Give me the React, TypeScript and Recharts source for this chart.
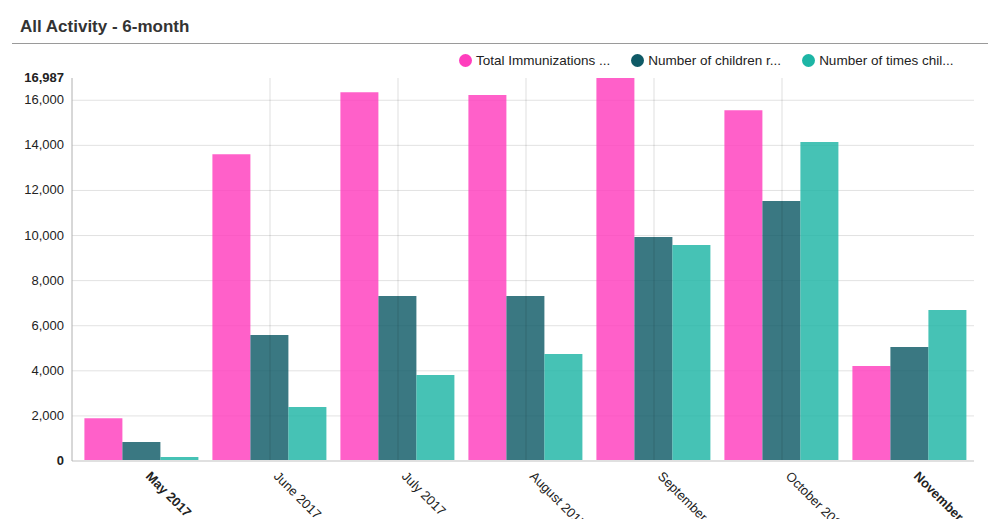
import React from 'react'
import { Bar, BarChart, CartesianGrid, ReferenceLine, XAxis, YAxis } from 'recharts'

const months = ['May 2017', 'June 2017', 'July 2017', 'August 2017', 'September 2017', 'October 2017', 'November 2017']
const totalImmunizations = [1900, 13610, 16360, 16230, 16987, 15560, 4210]
const childrenReached = [840, 5590, 7320, 7320, 9930, 11530, 5060]
const timesChildren = [180, 2400, 3810, 4750, 9580, 14150, 6700]
const yTicks = [0, 2000, 4000, 6000, 8000, 10000, 12000, 14000, 16000, 16987]
const gridMonths = ['June 2017', 'July 2017', 'August 2017', 'September 2017', 'October 2017']

const series = [
  { key: 'total', name: 'Total Immunizations ...', color: '#ff3dbd' },
  { key: 'children', name: 'Number of children r...', color: '#0f5a66' },
  { key: 'times', name: 'Number of times chil...', color: '#1db5a5' },
]

const data = months.map((m, i) => ({
  month: m,
  total: totalImmunizations[i],
  children: childrenReached[i],
  times: timesChildren[i],
}))

const font = '"Liberation Sans", Arial, Helvetica, sans-serif'

const MonthTick = ({ x, y, payload, index }: any) => {
  const bold = index === 0 || index === months.length - 1
  const tx = x + 3
  const ty = y + 8
  return (
    <text
      x={tx}
      y={ty}
      transform={`rotate(45 ${tx} ${ty})`}
      textAnchor='start'
      fontSize={13}
      fontFamily={font}
      fontWeight={bold ? 700 : 400}
      fill='#222'
    >
      {payload.value}
    </text>
  )
}

const ValueTick = ({ x, y, payload }: any) => {
  const bold = payload.value === 0 || payload.value === 16987
  return (
    <text
      x={x}
      y={y}
      dy={4}
      textAnchor='end'
      fontSize={13}
      fontFamily={font}
      fontWeight={bold ? 700 : 400}
      fill='#222'
    >
      {payload.value.toLocaleString('en-US')}
    </text>
  )
}

export default function App() {
  return (
    <div style={{ position: 'absolute', top: 0, left: 0, width: 992, height: 519, background: '#fff', fontFamily: font, overflow: 'hidden' }}>
      <div style={{ position: 'absolute', left: 20, top: 17, fontSize: 17, fontWeight: 700, color: '#333' }}>
        All Activity - 6-month
      </div>
      <div style={{ position: 'absolute', left: 12, top: 43, width: 976, height: 0, borderTop: '1.5px solid #9a9a9a' }} />
      <div style={{ position: 'absolute', top: 53, left: 459, display: 'flex', fontSize: 13.5, color: '#222' }}>
        {series.map(s => (
          <div key={s.key} style={{ display: 'flex', alignItems: 'center', marginRight: 21 }}>
            <span style={{ display: 'inline-block', width: 13, height: 13, borderRadius: '50%', background: s.color, marginRight: 4 }} />
            {s.name}
          </div>
        ))}
      </div>
      <div style={{ position: 'absolute', top: 0, left: 0 }}>
        <BarChart
          width={992}
          height={519}
          data={data}
          margin={{ top: 78, right: 18, left: 10, bottom: 0 }}
          barGap={0}
          barCategoryGap='5%'
        >
          <CartesianGrid
            vertical={false}
            stroke='#e2e2e2'
            horizontalValues={[2000, 4000, 6000, 8000, 10000, 12000, 14000, 16000]}
          />
          {gridMonths.map(m => (
            <ReferenceLine key={m} x={m} stroke='rgba(0,0,0,0.13)' />
          ))}
          <XAxis
            dataKey='month'
            height={58}
            padding={{ left: 6, right: 0 }}
            tick={<MonthTick />}
            tickLine={false}
            axisLine={{ stroke: '#e0e0e0', strokeWidth: 2 }}
            interval={0}
          />
          <YAxis
            width={62}
            domain={[0, 16987]}
            ticks={yTicks}
            tick={<ValueTick />}
            tickLine={false}
            axisLine={{ stroke: '#b0b0b0' }}
            interval={0}
          />
          {series.map(s => (
            <Bar key={s.key} dataKey={s.key} name={s.name} fill={s.color} fillOpacity={0.82} isAnimationActive={false} />
          ))}
        </BarChart>
      </div>
    </div>
  )
}
